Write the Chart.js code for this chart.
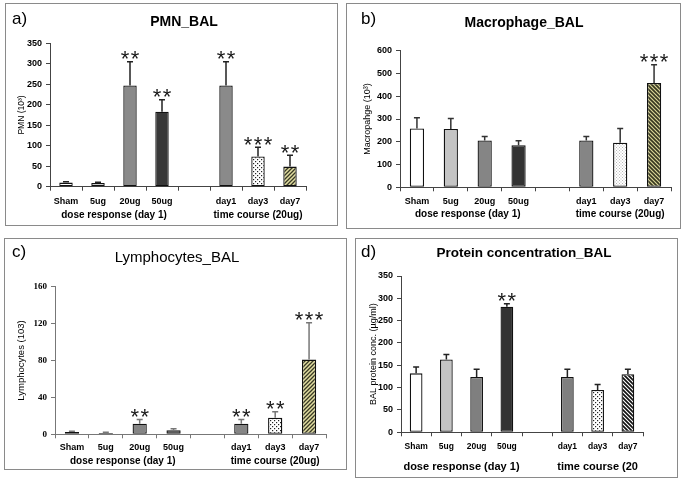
<!DOCTYPE html>
<html><head><meta charset="utf-8">
<script src="https://cdn.jsdelivr.net/npm/chart.js@4.4.1/dist/chart.umd.min.js"></script>
<style>
html,body{margin:0;padding:0;background:#fff;}
body{width:685px;height:480px;position:relative;overflow:hidden;font-family:"Liberation Sans",Arial,sans-serif;color:#000;}
.box{position:absolute;border:1px solid #8a8a8a;box-sizing:border-box;}
canvas{position:absolute;}
.ttl{position:absolute;white-space:nowrap;transform:translate(-50%,-50%);font-weight:bold;}
.let{position:absolute;white-space:nowrap;transform:translate(0,-50%);font-size:17px;}
</style></head>
<body>
<script>
// ---------- data ----------
const categories = ["Sham", "5ug", "20ug", "50ug", "", "day1", "day3", "day7"];
const groupLabels = ["dose response (day 1)", "time course (20ug)"];
const groupLabelsD = ["dose response (day 1)", "time course (20"];

const pmnMean  = [10, 9, 247, 183, null, 247, 74, 49];
const pmnSD    = [2, 2, 58, 29, null, 58, 22, 28];
const pmnStars = ["", "", "**", "**", "", "**", "***", "**"];
const pmnTicks = [0, 50, 100, 150, 200, 250, 300, 350];

const macMean  = [258, 256, 206, 185, null, 206, 196, 458];
const macSD    = [48, 46, 17, 20, null, 17, 62, 80];
const macStars = ["", "", "", "", "", "", "", "***"];
const macTicks = [0, 100, 200, 300, 400, 500, 600];

const lymMean  = [2.5, 1.5, 11.5, 4.5, null, 11.5, 18, 81];
const lymSD    = [0.7, 0.6, 4.5, 1.5, null, 4.5, 6.5, 40];
const lymStars = ["", "", "**", "", "", "**", "**", "***"];
const lymTicks = [0, 40, 80, 120, 160];

const proMean  = [132, 163, 124, 281, null, 124, 95, 130];
const proSD    = [14, 11, 17, 7, null, 17, 12, 11];
const proStars = ["", "", "", "**", "", "", "", ""];
const proTicks = [0, 50, 100, 150, 200, 250, 300, 350];

// ---------- patterns ----------
function dotPattern(bg, fg, step, r) {
  const c = document.createElement('canvas'); c.width = step; c.height = step;
  const x = c.getContext('2d');
  x.fillStyle = bg; x.fillRect(0, 0, step, step);
  x.fillStyle = fg; x.fillRect(0, 0, r, r); x.fillRect(step / 2, step / 2, r, r);
  return x.createPattern(c, 'repeat');
}
function stripePattern(bg, fg, size, lw, dir) {
  const c = document.createElement('canvas'); c.width = size; c.height = size;
  const x = c.getContext('2d');
  x.fillStyle = bg; x.fillRect(0, 0, size, size);
  x.strokeStyle = fg; x.lineWidth = lw;
  x.beginPath();
  if (dir === '/') {
    x.moveTo(-1, size + 1); x.lineTo(size + 1, -1);
    x.moveTo(-1, 1); x.lineTo(1, -1);
    x.moveTo(size - 1, size + 1); x.lineTo(size + 1, size - 1);
  } else {
    x.moveTo(-1, -1); x.lineTo(size + 1, size + 1);
    x.moveTo(size - 1, -1); x.lineTo(size + 1, 1);
    x.moveTo(-1, size - 1); x.lineTo(1, size + 1);
  }
  x.stroke();
  return x.createPattern(c, 'repeat');
}
const dots = dotPattern('#ffffff', '#222222', 4, 1.2);
const dotsLight = dotPattern('#ffffff', '#b8b8b8', 3, 1);
const khakiA = stripePattern('#e2dea2', '#3a3a26', 4, 1.3, '/');
const khakiB = stripePattern('#d8d496', '#36361f', 4, 1.6, '\\');
const bwStripe = stripePattern('#ffffff', '#111111', 4, 1.7, '\\');

// ---------- drawing helpers (plugin) ----------
const extras = {
  id: 'extras',
  afterDatasetsDraw(chart) {
    const p = chart.options.plugins.extras;
    const ctx = chart.ctx;
    const meta = chart.getDatasetMeta(0);
    const ys = chart.scales.y;
    ctx.save();
    p.mean.forEach((m, i) => {
      if (m === null) return;
      const bar = meta.data[i];
      const yTop = ys.getPixelForValue(m);
      const yErr = ys.getPixelForValue(m + p.sd[i]);
      ctx.strokeStyle = p.errColor; ctx.lineWidth = 1.5;
      ctx.beginPath();
      ctx.moveTo(bar.x, yTop); ctx.lineTo(bar.x, yErr);
      ctx.moveTo(bar.x - 3, yErr); ctx.lineTo(bar.x + 3, yErr);
      ctx.stroke();
      const s = p.stars[i];
      if (s) {
        ctx.fillStyle = '#1a1a1a';
        ctx.font = p.starFont;
        ctx.textAlign = 'center'; ctx.textBaseline = 'alphabetic';
        const n = s.length;
        for (let k = 0; k < n; k++) {
          ctx.fillText('*', bar.x + (k - (n - 1) / 2) * p.starGap, yErr + p.starDy);
        }
      }
    });
    // group labels
    const xs = chart.scales.x;
    ctx.fillStyle = '#000';
    ctx.font = p.groupFont;
    ctx.textAlign = 'center'; ctx.textBaseline = 'middle';
    const g1 = (xs.getPixelForValue(0) + xs.getPixelForValue(3)) / 2;
    const g2 = (xs.getPixelForValue(5) + xs.getPixelForValue(7)) / 2;
    ctx.fillText(p.groups[0], g1, p.groupY);
    ctx.fillText(p.groups[1], g2, p.groupY);
    ctx.restore();
  }
};

function addDiv(cls, text, x, y, style) {
  const d = document.createElement('div');
  d.className = cls; d.textContent = text;
  d.style.left = x + 'px'; d.style.top = y + 'px';
  Object.assign(d.style, style || {});
  document.body.appendChild(d);
}

function makePanel(p) {
  const b = document.createElement('div');
  b.className = 'box';
  Object.assign(b.style, {left: p.box.x + 'px', top: p.box.y + 'px', width: p.box.w + 'px', height: p.box.h + 'px'});
  document.body.appendChild(b);

  const cv = document.createElement('canvas');
  cv.width = p.box.w; cv.height = p.box.h;
  Object.assign(cv.style, {left: p.box.x + 'px', top: p.box.y + 'px', width: p.box.w + 'px', height: p.box.h + 'px'});
  document.body.appendChild(cv);

  const yW = p.area.l - p.box.x;
  const xH = p.box.y + p.box.h - p.area.b;
  const yLH = p.yTitleFont.size * 1.2;
  const axisColor = p.axisColor;

  new Chart(cv, {
    type: 'bar',
    data: {
      labels: categories,
      datasets: [{
        data: p.mean,
        backgroundColor: p.colors,
        borderColor: '#111',
        borderWidth: 1.3,
        borderSkipped: false,
        barPercentage: 0.42,
        categoryPercentage: 1
      }]
    },
    options: {
      responsive: false, animation: false, devicePixelRatio: 1,
      layout: {padding: {left: 0, top: p.area.t - p.box.y, right: p.box.x + p.box.w - p.area.r, bottom: 0}},
      plugins: {
        legend: {display: false}, tooltip: {enabled: false},
        extras: {mean: p.mean, sd: p.sd, stars: p.stars, errColor: p.errColor,
                 starFont: '22px "Liberation Sans", Arial, sans-serif', starDy: 4.5, starGap: 10,
                 groups: p.groups, groupFont: p.groupFont, groupY: p.groupY - p.box.y}
      },
      scales: {
        x: {
          grid: {display: true, drawOnChartArea: false, drawTicks: true, tickLength: 4, color: axisColor, offset: true},
          border: {display: true, color: axisColor, width: 1},
          ticks: {font: p.xFont, color: '#000', padding: p.xPad, maxRotation: 0, autoSkip: false},
          afterFit: s => { s.height = xH; }
        },
        y: {
          min: 0, max: p.ticks[p.ticks.length - 1],
          afterBuildTicks: s => { s.ticks = p.ticks.map(v => ({value: v})); },
          grid: {display: true, drawOnChartArea: false, drawTicks: true, tickLength: 4, color: axisColor},
          border: {display: true, color: axisColor, width: 1},
          ticks: {font: p.yFont, color: '#000', padding: 4},
          title: {display: true, text: p.yTitle, font: p.yTitleFont, color: '#000',
                  padding: {top: p.yTitleX - p.box.x - yLH / 2, bottom: 0}},
          afterFit: s => { s.width = yW; }
        }
      }
    },
    plugins: [extras]
  });

  addDiv('ttl', p.title, p.titleX, p.titleY, {fontSize: p.titleSize + 'px', fontWeight: p.titleWeight});
  addDiv('let', p.letter, p.letterX, p.letterY);
}

const SANS = '"Liberation Sans", Arial, sans-serif';
const SERIF = '"Liberation Serif", "Times New Roman", serif';

// a) PMN
makePanel({
  box: {x: 5, y: 3, w: 333, h: 223},
  area: {l: 50, r: 306, t: 43.3, b: 186.7},
  mean: pmnMean, sd: pmnSD, stars: pmnStars, ticks: pmnTicks,
  colors: ['#ffffff', '#cfcfcf', '#8a8a8a', '#383838', '#fff', '#8a8a8a', dots, khakiA],
  errColor: '#222', axisColor: '#444',
  groups: groupLabels, groupFont: 'bold 10px ' + SANS, groupY: 215,
  xFont: {family: SANS, size: 9, weight: 'bold'}, xPad: 5,
  yFont: {family: SANS, size: 9, weight: 'bold'},
  yTitle: 'PMN (10³)', yTitleFont: {family: SANS, size: 8.5, weight: 'normal'}, yTitleX: 22,
  title: 'PMN_BAL', titleX: 184, titleY: 21, titleSize: 14, titleWeight: 'bold',
  letter: 'a)', letterX: 12, letterY: 19
});

// b) Macrophage
makePanel({
  box: {x: 346, y: 3, w: 335, h: 226},
  area: {l: 400, r: 671, t: 50.7, b: 187.3},
  mean: macMean, sd: macSD, stars: macStars, ticks: macTicks,
  colors: ['#ffffff', '#c4c4c4', '#858585', '#333333', '#fff', '#858585', dotsLight, khakiB],
  errColor: '#333', axisColor: '#444',
  groups: groupLabels, groupFont: 'bold 10px ' + SANS, groupY: 214,
  xFont: {family: SANS, size: 9, weight: 'bold'}, xPad: 5,
  yFont: {family: SANS, size: 9, weight: 'bold'},
  yTitle: 'Macropahge (10³)', yTitleFont: {family: SANS, size: 9, weight: 'normal'}, yTitleX: 368,
  title: 'Macrophage_BAL', titleX: 524, titleY: 22, titleSize: 14, titleWeight: 'bold',
  letter: 'b)', letterX: 361, letterY: 19
});

// c) Lymphocytes
makePanel({
  box: {x: 4, y: 238, w: 343, h: 232},
  area: {l: 55, r: 326, t: 286.7, b: 434.3},
  mean: lymMean, sd: lymSD, stars: lymStars, ticks: lymTicks,
  colors: ['#d8d8d8', '#262626', '#858585', '#333333', '#fff', '#858585', dots, khakiA],
  errColor: '#777', axisColor: '#777',
  groups: groupLabels, groupFont: 'bold 10px ' + SANS, groupY: 461.7,
  xFont: {family: SANS, size: 9, weight: 'bold'}, xPad: 4,
  yFont: {family: SERIF, size: 9, weight: 'bold'},
  yTitle: 'Lymphocytes (103)', yTitleFont: {family: SANS, size: 9.5, weight: 'normal'}, yTitleX: 21.5,
  title: 'Lymphocytes_BAL', titleX: 177, titleY: 256, titleSize: 15, titleWeight: 'normal',
  letter: 'c)', letterX: 12, letterY: 252
});

// d) Protein
makePanel({
  box: {x: 355, y: 238, w: 323, h: 240},
  area: {l: 401, r: 643, t: 276, b: 432.3},
  mean: proMean, sd: proSD, stars: proStars, ticks: proTicks,
  colors: ['#ffffff', '#c4c4c4', '#7f7f7f', '#333333', '#fff', '#7f7f7f', dots, bwStripe],
  errColor: '#222', axisColor: '#444',
  groups: groupLabelsD, groupFont: 'bold 11px ' + SANS, groupY: 466.7,
  xFont: {family: SANS, size: 8.5, weight: 'bold'}, xPad: 5,
  yFont: {family: SANS, size: 9, weight: 'bold'},
  yTitle: 'BAL protein conc. (µg/ml)', yTitleFont: {family: SANS, size: 9, weight: 'normal'}, yTitleX: 373.5,
  title: 'Protein concentration_BAL', titleX: 524, titleY: 252, titleSize: 13.5, titleWeight: 'bold',
  letter: 'd)', letterX: 361, letterY: 252
});
</script>
</body></html>
